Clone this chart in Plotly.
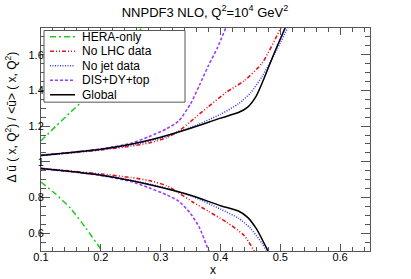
import plotly.graph_objects as go

# ---------------- data ----------------
series_names = ["HERA-only", "No LHC data", "No jet data", "DIS+DY+top", "Global"]

hera_x  = [0.10, 0.125, 0.15, 0.175, 0.20, 0.235, 0.27]
hera_up = [1.118, 1.20, 1.28, 1.36, 1.46, 1.60, 1.76]
hera_lo = [0.886, 0.818, 0.737, 0.628, 0.51, 0.33, 0.15]

nolhc_x  = [0.10, 0.15, 0.20, 0.25, 0.28, 0.31, 0.33, 0.355, 0.38, 0.41, 0.44, 0.47, 0.50, 0.51]
nolhc_up = [1.036, 1.050, 1.066, 1.088, 1.105, 1.135, 1.172, 1.24, 1.31, 1.39, 1.455, 1.555, 1.745, 1.82]
nolhc_lo = [0.963, 0.948, 0.932, 0.912, 0.895, 0.866, 0.826, 0.772, 0.722, 0.662, 0.585, 0.42, 0.25, 0.20]

nojet_x  = [0.10, 0.15, 0.20, 0.25, 0.30, 0.35, 0.40, 0.43, 0.45, 0.47, 0.49, 0.515]
nojet_up = [1.036, 1.051, 1.068, 1.094, 1.132, 1.192, 1.266, 1.325, 1.385, 1.48, 1.60, 1.77]
nojet_lo = [0.963, 0.946, 0.926, 0.897, 0.860, 0.810, 0.735, 0.684, 0.628, 0.54, 0.43, 0.30]

disdy_x  = [0.10, 0.15, 0.20, 0.25, 0.28, 0.31, 0.33, 0.35, 0.365, 0.38, 0.395, 0.41]
disdy_up = [1.038, 1.053, 1.072, 1.103, 1.14, 1.185, 1.228, 1.325, 1.43, 1.54, 1.64, 1.76]
disdy_lo = [0.961, 0.945, 0.924, 0.890, 0.855, 0.815, 0.780, 0.710, 0.630, 0.505, 0.40, 0.30]

global_x  = [0.10, 0.15, 0.20, 0.25, 0.30, 0.35, 0.40, 0.43, 0.445, 0.46, 0.475, 0.49, 0.51]
global_up = [1.036, 1.052, 1.070, 1.098, 1.138, 1.188, 1.245, 1.276, 1.305, 1.370, 1.485, 1.610, 1.765]
global_lo = [0.962, 0.945, 0.925, 0.895, 0.857, 0.812, 0.754, 0.724, 0.690, 0.625, 0.530, 0.43, 0.30]

x_ticks = [0.1, 0.2, 0.3, 0.4, 0.5, 0.6]
y_ticks = [0.6, 0.8, 1.0, 1.2, 1.4, 1.6]

# ---------------- styles ----------------
colors = ["#1fcc1f", "#e8141e", "#3b3bff", "#9a3cff", "#000000"]
dashes = ["6px,3px,2px,3px", "4px,2px,1px,2px,1px,2px", "1px,1.5px", "3px,2px", "solid"]
widths = [1.5, 1.6, 1.6, 1.6, 1.5]

data = [
    (hera_x, hera_up, hera_lo),
    (nolhc_x, nolhc_up, nolhc_lo),
    (nojet_x, nojet_up, nojet_lo),
    (disdy_x, disdy_up, disdy_lo),
    (global_x, global_up, global_lo),
]

fig = go.Figure()
for (xs, up, lo), name, c, d, w in zip(data, series_names, colors, dashes, widths):
    for ys in (up, lo):
        fig.add_trace(go.Scatter(
            x=xs, y=ys, mode="lines", name=name, showlegend=False,
            line=dict(color=c, dash=d, width=w, shape="spline", smoothing=0.6),
            hoverinfo="skip"))

# plot-area geometry in pixels
W, H = 411, 279
L, R, T, B = 41, 370, 27.5, 250.6


def px_x(p):
    return (p - L) / (R - L)


def px_y(p):
    return 1 - (p - T) / (B - T)


font = "Liberation Sans, Arial, Helvetica, sans-serif"
shapes = []
annotations = []

# manual legend (compact, like the reference)
shapes.append(dict(type="rect", xref="paper", yref="paper",
                   x0=px_x(44), x1=px_x(185), y0=px_y(101.7), y1=px_y(30),
                   line=dict(color="#555555", width=1), fillcolor="white", layer="above"))
for i, (name, c, d, w) in enumerate(zip(series_names, colors, dashes, widths)):
    yy = px_y(36.3 + 14.5 * i)
    shapes.append(dict(type="line", xref="paper", yref="paper",
                       x0=px_x(50), x1=px_x(75), y0=yy, y1=yy,
                       line=dict(color=c, dash=d, width=w), layer="above"))
    annotations.append(dict(text=name, xref="paper", yref="paper", x=px_x(80), y=yy,
                            xanchor="left", yanchor="middle", showarrow=False,
                            font=dict(size=12, color="black", family=font)))

# axis titles
annotations.append(dict(text="\u0394 \u016b ( x, Q<sup>2</sup>) / &lt;\u016b&gt; ( x, Q<sup>2</sup>)",
                        xref="paper", yref="paper", x=px_x(11), y=px_y(117),
                        textangle=-90, showarrow=False, xanchor="center", yanchor="middle",
                        font=dict(size=12, color="black", family=font)))
annotations.append(dict(text="x", xref="paper", yref="paper", x=px_x(213), y=px_y(270),
                        showarrow=False, xanchor="center", yanchor="middle",
                        font=dict(size=12, color="black", family=font)))

axis_common = dict(showgrid=False, zeroline=False, showline=True, linecolor="#555555",
                   linewidth=1, mirror="allticks", ticks="inside", tickcolor="#555555",
                   tickfont=dict(size=11, color="black", family=font))

fig.update_layout(
    width=W, height=H,
    margin=dict(l=L, r=W - R, t=T, b=H - B, pad=0),
    paper_bgcolor="white", plot_bgcolor="white",
    title=dict(text="NNPDF3 NLO, Q<sup>2</sup>=10<sup>4</sup> GeV<sup>2</sup>",
               x=px_x(205), xref="paper", y=1 - 12 / H, yref="container",
               xanchor="center", yanchor="middle",
               font=dict(size=13, color="black", family=font)),
    xaxis=dict(range=[0.1, 0.65], tickvals=x_ticks, ticktext=[f"{v:g}" for v in x_ticks],
               ticklen=7, ticklabelstandoff=-4,
               minor=dict(dtick=0.02, tick0=0.1, ticklen=4, ticks="inside",
                          tickcolor="#555555"),
               **axis_common),
    yaxis=dict(range=[0.5, 1.75], tickvals=y_ticks, ticktext=[f"{v:g}" for v in y_ticks],
               ticklen=9, ticklabelstandoff=-6,
               minor=dict(dtick=0.05, tick0=0.5, ticklen=5, ticks="inside",
                          tickcolor="#555555"),
               **axis_common),
    shapes=shapes, annotations=annotations,
    showlegend=False,
)

fig.write_html("out.html", config={"displayModeBar": False},
               post_script="document.body.style.margin='0px';document.body.style.padding='0px';")
